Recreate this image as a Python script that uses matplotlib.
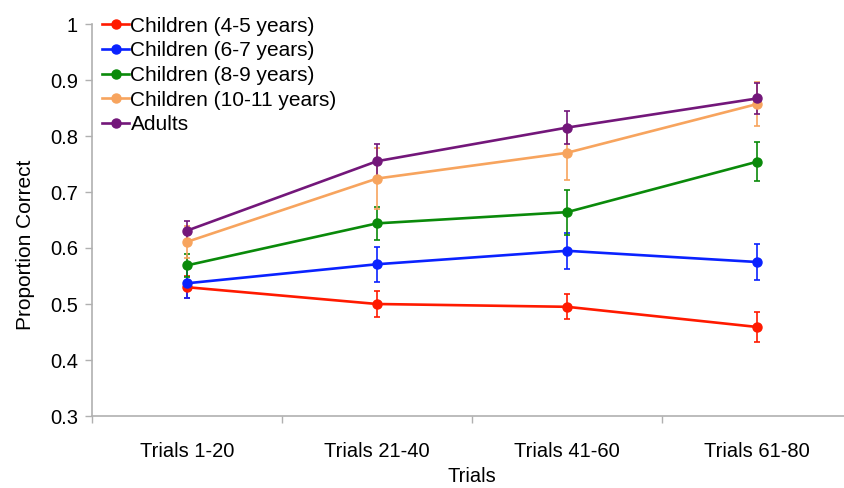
import matplotlib
matplotlib.use("Agg")
import matplotlib.pyplot as plt
from matplotlib.lines import Line2D
import numpy as np

categories = ["Trials 1-20", "Trials 21-40", "Trials 41-60", "Trials 61-80"]
series_names = ["Children (4-5 years)", "Children (6-7 years)", "Children (8-9 years)",
                "Children (10-11 years)", "Adults"]
colors = ["#ff1a00", "#0a22ff", "#0a8a0a", "#f7a45e", "#73177a"]

red_vals = [0.530, 0.500, 0.495, 0.459]
blue_vals = [0.537, 0.571, 0.595, 0.575]
green_vals = [0.569, 0.644, 0.664, 0.754]
orange_vals = [0.611, 0.724, 0.770, 0.857]
purple_vals = [0.631, 0.755, 0.815, 0.867]

red_err = [0.020, 0.024, 0.022, 0.027]
blue_err = [0.027, 0.031, 0.032, 0.033]
green_err = [0.020, 0.030, 0.040, 0.035]
orange_err = [0.028, 0.054, 0.048, 0.040]
purple_err = [0.018, 0.030, 0.030, 0.027]

values = [red_vals, blue_vals, green_vals, orange_vals, purple_vals]
errors = [red_err, blue_err, green_err, orange_err, purple_err]

plt.rcParams['font.family'] = ['Liberation Sans', 'DejaVu Sans']

fig = plt.figure(figsize=(8.44, 4.88), dpi=100)
W, H = 844, 488
left, right, top, bottom = 92, 852, 24, 416
ax = fig.add_axes([left / W, 1 - bottom / H, (right - left) / W, (bottom - top) / H])

x = np.arange(len(categories))
handles = []
for name, vals, err, c in zip(series_names, values, errors, colors):
    ax.errorbar(x, vals, yerr=err, color=c, marker='o', markersize=6.5, linewidth=1.9,
                elinewidth=1.2, capsize=2.5, capthick=1.2)
    handles.append(Line2D([], [], color=c, marker='o', markersize=6.5, linewidth=1.9, label=name))

ax.set_xlim(-0.5, len(categories) - 0.5)
ax.set_ylim(0.3, 1.0)
ax.set_yticks([0.3, 0.4, 0.5, 0.6, 0.7, 0.8, 0.9, 1.0])
ax.set_yticklabels(["0.3", "0.4", "0.5", "0.6", "0.7", "0.8", "0.9", "1"])
ax.set_xticks(x)
ax.set_xticklabels(categories)
ax.set_xticks(np.arange(len(categories) + 1) - 0.5, minor=True)
ax.tick_params(axis='x', which='major', length=0, pad=19, labelsize=14.5)
ax.tick_params(axis='x', which='minor', length=5, color='#b0b0b0', width=1)
ax.tick_params(axis='y', length=5, color='#b0b0b0', width=1, labelsize=14.5, pad=5)

for s in ['top', 'right']:
    ax.spines[s].set_visible(False)
for s in ['left', 'bottom']:
    ax.spines[s].set_color('#b0b0b0')
    ax.spines[s].set_linewidth(1.2)

ax.set_xlabel("Trials", fontsize=14.5, va='center')
ax.set_ylabel("Proportion Correct", fontsize=15, va='center')
ax.xaxis.set_label_coords((472 - left) / (right - left), -(477 - bottom) / (bottom - top))
ax.yaxis.set_label_coords((25 - left) / (right - left), (bottom - 245) / (bottom - top))

leg = ax.legend(handles=handles, loc='upper left', bbox_to_anchor=(2 / 760, 1.04), frameon=False,
                fontsize=15, handlelength=1.3, handletextpad=0.05,
                labelspacing=0.27, borderaxespad=0.0)

fig.savefig("out.png", dpi=100)
